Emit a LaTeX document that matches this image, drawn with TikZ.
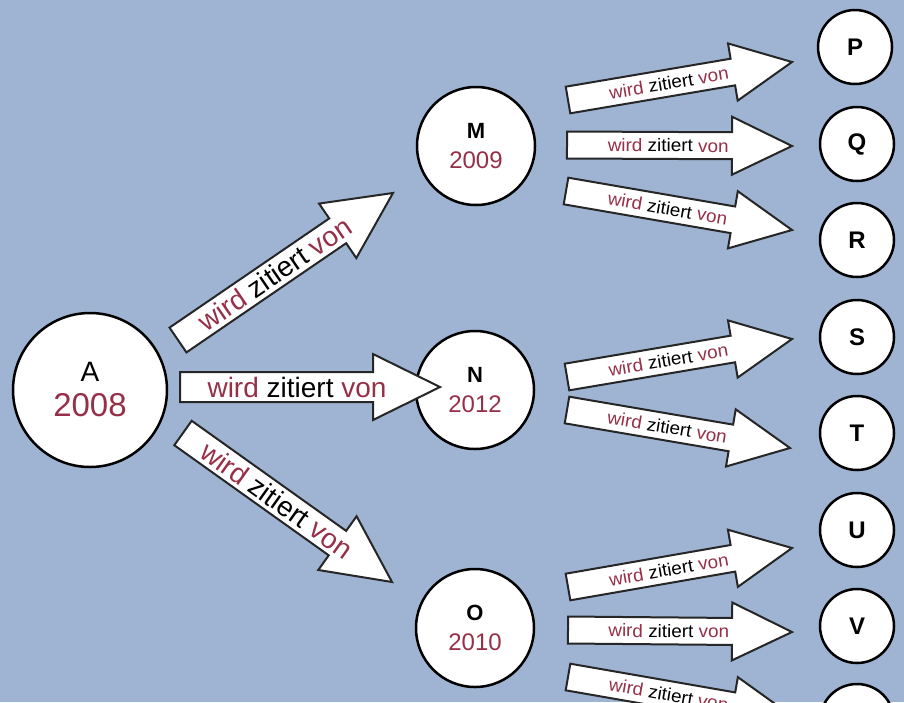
\documentclass[tikz,border=0pt]{standalone}
\usepackage{fontspec}
\setmainfont{Liberation Sans}
\usepackage{tikz}
\usetikzlibrary{calc}

\definecolor{bgblue}{RGB}{158,180,210}
\definecolor{citered}{RGB}{150,48,72}

\newcommand{\wzv}{\textcolor{citered}{wird} zitiert \textcolor{citered}{von}}
% block arrow: tail, tip, half shaft, half head, head length, text style
\newcommand{\zitarrow}[6]{%
\coordinate (hb) at ($(#2)!#5!(#1)$);
\draw[arrowbox] ($(#1)!#3!90:(#2)$) -- ($(hb)!#3!-90:(#1)$) -- ($(hb)!#4!-90:(#1)$) -- (#2)
  -- ($(hb)!#4!90:(#1)$) -- ($(hb)!#3!90:(#1)$) -- ($(#1)!#3!-90:(#2)$) -- cycle;
\path (#1) -- (#2) node[pos=0.45, sloped, #6] {\wzv};
}

\begin{document}
\begin{tikzpicture}[x=1pt, y=-1pt,
  paper/.style={circle, draw=black, fill=white, line width=2.5pt, align=center, inner sep=0pt},
  bigpaper/.style={paper, minimum size=154pt, font=\fontsize{33}{35}\selectfont},
  midpaper/.style={paper, minimum size=118pt, font=\fontsize{24}{30}\selectfont},
  smallpaper/.style={paper, minimum size=74pt, font=\bfseries\fontsize{24}{24}\selectfont},
  arrowbox/.style={draw=black!85, fill=white, line width=2pt, line join=miter},
  bigtext/.style={font=\fontsize{28}{30}\selectfont, inner sep=0pt},
  smalltext/.style={font=\fontsize{18}{20}\selectfont, inner sep=0pt, xscale=1.05}]
\clip (0,0) rectangle (904,702);
\fill[bgblue] (0,0) rectangle (904,702);

% papers
\node[bigpaper] (A) at (90,390) {{\fontsize{28}{28}\selectfont A}\\\textcolor{citered}{2008}};
\node[midpaper] (M) at (476,146) {{\bfseries\fontsize{22}{22}\selectfont M}\\\textcolor{citered}{2009}};
\node[midpaper] (N) at (475,390) {{\bfseries\fontsize{22}{22}\selectfont N}\\\textcolor{citered}{2012}};
\node[midpaper] (O) at (475,628) {{\bfseries\fontsize{22}{22}\selectfont O}\\\textcolor{citered}{2010}};
\node[smallpaper] (P) at (855,47) {P};
\node[smallpaper] (Q) at (857,144) {Q};
\node[smallpaper] (R) at (857,240) {R};
\node[smallpaper] (S) at (857,337) {S};
\node[smallpaper] (T) at (857,433) {T};
\node[smallpaper] (U) at (857,530) {U};
\node[smallpaper] (V) at (857,626) {V};
\node[smallpaper] (W) at (857,721) {};

% arrow ends
\coordinate (AMt) at (178,340);  \coordinate (AMh) at (393,193);
\coordinate (ANt) at (180,387);  \coordinate (ANh) at (440,387);
\coordinate (AOt) at (183,433);  \coordinate (AOh) at (392,582);
\coordinate (MPt) at (568,100);  \coordinate (MPh) at (792,62);
\coordinate (MQt) at (567,145);  \coordinate (MQh) at (792,146);
\coordinate (MRt) at (566,191);  \coordinate (MRh) at (792,230);
\coordinate (NSt) at (567,377);  \coordinate (NSh) at (792,339);
\coordinate (NTt) at (567,410);  \coordinate (NTh) at (790,448);
\coordinate (OUt) at (568,587);  \coordinate (OUh) at (792,548);
\coordinate (OVt) at (568,630);  \coordinate (OVh) at (792,632);
\coordinate (OWt) at (568,677);  \coordinate (OWh) at (792,716);

% citations
\zitarrow{AMt}{AMh}{15pt}{33pt}{67pt}{bigtext}
\zitarrow{ANt}{ANh}{15pt}{33pt}{67pt}{bigtext}
\zitarrow{AOt}{AOh}{15pt}{33pt}{67pt}{bigtext}
\zitarrow{MPt}{MPh}{13.5pt}{29pt}{60pt}{smalltext}
\zitarrow{MQt}{MQh}{13.5pt}{29pt}{60pt}{smalltext}
\zitarrow{MRt}{MRh}{13.5pt}{29pt}{60pt}{smalltext}
\zitarrow{NSt}{NSh}{13.5pt}{29pt}{60pt}{smalltext}
\zitarrow{NTt}{NTh}{13.5pt}{29pt}{60pt}{smalltext}
\zitarrow{OUt}{OUh}{13.5pt}{29pt}{60pt}{smalltext}
\zitarrow{OVt}{OVh}{13.5pt}{29pt}{60pt}{smalltext}
\zitarrow{OWt}{OWh}{13.5pt}{29pt}{60pt}{smalltext}
\end{tikzpicture}
\end{document}
